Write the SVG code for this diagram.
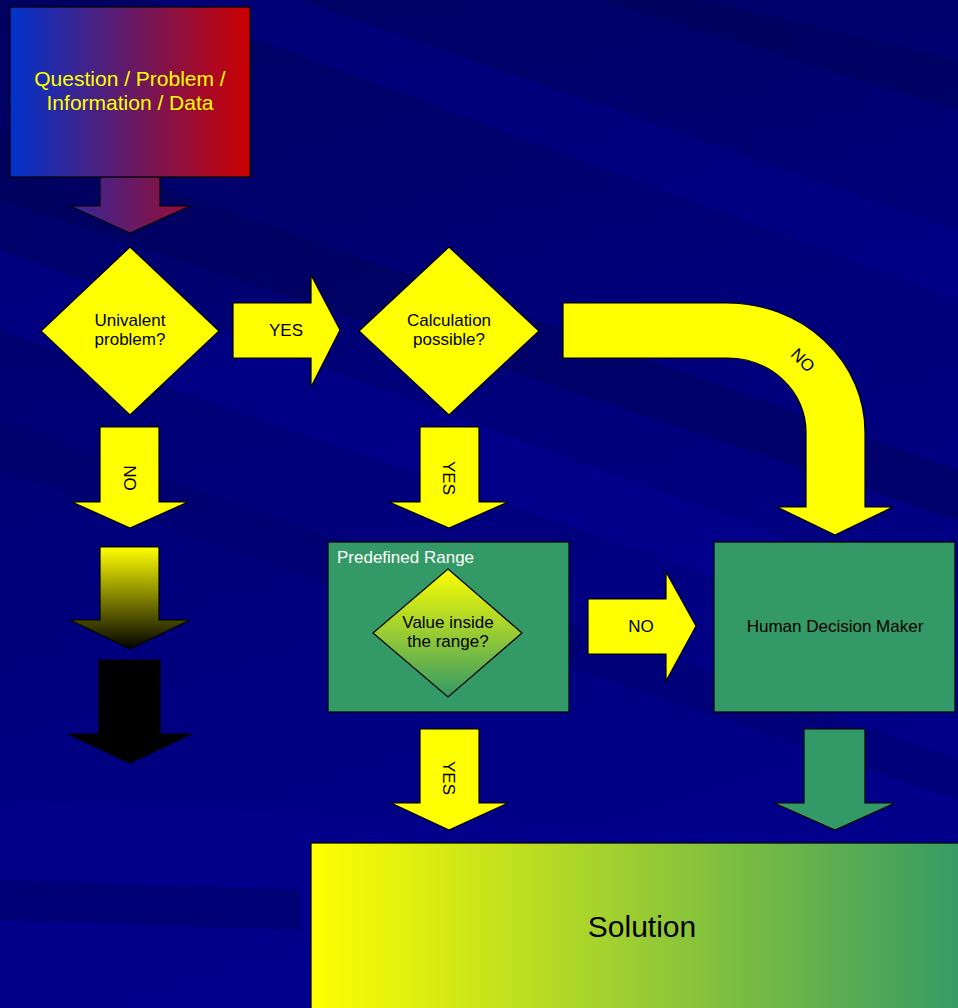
<svg xmlns="http://www.w3.org/2000/svg" width="958" height="1008" viewBox="0 0 958 1008">
<defs>
<linearGradient id="bg" x1="0" y1="0" x2="0.3" y2="1">
<stop offset="0" stop-color="#000060"/>
<stop offset="0.5" stop-color="#00007a"/>
<stop offset="1" stop-color="#00008a"/>
</linearGradient>
<linearGradient id="gTop" x1="0" y1="0" x2="1" y2="0">
<stop offset="0" stop-color="#0033cc"/>
<stop offset="1" stop-color="#cc0000"/>
</linearGradient>
<linearGradient id="gTopArrow" gradientUnits="userSpaceOnUse" x1="10" y1="0" x2="250" y2="0">
<stop offset="0" stop-color="#0033cc"/>
<stop offset="1" stop-color="#cc0000"/>
</linearGradient>
<linearGradient id="gFade" x1="0" y1="0" x2="0" y2="1">
<stop offset="0" stop-color="#ffff00"/>
<stop offset="1" stop-color="#000000"/>
</linearGradient>
<linearGradient id="gDia" x1="0" y1="0" x2="0" y2="1">
<stop offset="0" stop-color="#ffff00"/>
<stop offset="1" stop-color="#339966"/>
</linearGradient>
<linearGradient id="gSol" x1="0" y1="0" x2="1" y2="0">
<stop offset="0" stop-color="#ffff00"/>
<stop offset="1" stop-color="#339966"/>
</linearGradient>
<style>
.ln{stroke:#000;stroke-width:1.2}
.yel{fill:#ffff00}
.grn{fill:#339966}
.t{font-family:"Liberation Sans",Arial,sans-serif;fill:#000;text-anchor:middle}
</style>
</defs>
<g id="background">
<rect x="0" y="0" width="958" height="1008" fill="url(#bg)"/>
<polygon points="0,130 958,470 958,520 0,200" fill="#000055" opacity="0.45"/>
<polygon points="0,250 958,600 958,660 0,330" fill="#0000a0" opacity="0.35"/>
<polygon points="0,420 958,760 958,800 0,470" fill="#000060" opacity="0.35"/>
<polygon points="300,0 958,230 958,300 150,0" fill="#0000a0" opacity="0.3"/>
<polygon points="600,0 958,110 958,60 700,0" fill="#000050" opacity="0.4"/>
<polygon points="0,800 958,840 958,1008 0,1008" fill="#000090" opacity="0.4"/>
<polygon points="0,880 300,890 300,930 0,920" fill="#000060" opacity="0.5"/>
</g>
<g id="connectors">
<polygon id="c-start" class="ln" fill="url(#gTopArrow)" points="100,177 160,177 160,206 190,206 130,233 70,206 100,206"/>
<g id="c-yes1">
<polygon class="ln yel" points="233,303 311,303 311,275 340,330 311,387 311,358 233,358"/>
<text class="t" x="286" y="336" font-size="17">YES</text>
</g>
<g id="c-no-curve">
<path class="ln yel" d="M563,303 L727,303 A138,129 0 0 1 865,432 L865,507 L893,507 L835,535 L777,507 L806,507 L806,432 A79,74 0 0 0 727,358 L563,358 Z"/>
<text class="t" x="803" y="366" font-size="17" transform="rotate(45 803 360)">NO</text>
</g>
<g id="c-no-left">
<polygon class="ln yel" points="100,427 159,427 159,502 188,502 130,528 72,502 100,502"/>
<text class="t" x="130" y="484" font-size="17" transform="rotate(90 130 478)">NO</text>
</g>
<polygon id="c-fade" class="ln" fill="url(#gFade)" points="100,547 159,547 159,620 190,620 130,649 70,620 100,620"/>
<polygon id="c-black" class="ln" fill="#000" points="99,660 160,660 160,734 191,734 130,763 68,734 99,734"/>
<g id="c-yes2">
<polygon class="ln yel" points="420,427 479,427 479,502 508,502 449,528 389,502 420,502"/>
<text class="t" x="449" y="484" font-size="17" transform="rotate(90 449 478)">YES</text>
</g>
<g id="c-no-range">
<polygon class="ln yel" points="588,599 666,599 666,572 696,626 666,681 666,654 588,654"/>
<text class="t" x="641" y="632" font-size="17">NO</text>
</g>
<g id="c-yes3">
<polygon class="ln yel" points="420,729 479,729 479,803 508,803 449,830 391,803 420,803"/>
<text class="t" x="449" y="784" font-size="17" transform="rotate(90 449 778)">YES</text>
</g>
<polygon id="c-human" class="ln grn" points="804,729 865,729 865,803 895,803 835,830 774,803 804,803"/>
</g>
<g id="n-start">
<rect class="ln" x="10" y="7" width="240" height="170" fill="url(#gTop)"/>
<text class="t" x="130" y="86" font-size="21" style="fill:#ffff00">Question / Problem /</text>
<text class="t" x="130" y="110" font-size="21" style="fill:#ffff00">Information / Data</text>
</g>
<g id="n-univalent">
<polygon class="ln yel" points="130,247 219,331 130,415 41,331"/>
<text class="t" x="130" y="326" font-size="17">Univalent</text>
<text class="t" x="130" y="345" font-size="17">problem?</text>
</g>
<g id="n-calc">
<polygon class="ln yel" points="449,247 539,331 449,415 359,331"/>
<text class="t" x="449" y="326" font-size="17">Calculation</text>
<text class="t" x="449" y="345" font-size="17">possible?</text>
</g>
<g id="n-range">
<rect class="ln grn" x="328" y="542" width="241" height="170"/>
<text x="337" y="563" font-size="17" font-family="Liberation Sans, Arial, sans-serif" fill="#ffffff">Predefined Range</text>
<polygon class="ln" fill="url(#gDia)" points="448,569 522,633 448,697 373,633"/>
<text class="t" x="448" y="628" font-size="17">Value inside</text>
<text class="t" x="448" y="647" font-size="17">the range?</text>
</g>
<g id="n-human">
<rect class="ln grn" x="714" y="542" width="241" height="170"/>
<text class="t" x="835" y="632" font-size="17">Human Decision Maker</text>
</g>
<g id="n-solution">
<rect class="ln" x="311" y="843" width="660" height="180" fill="url(#gSol)"/>
<text class="t" x="642" y="937" font-size="30">Solution</text>
</g>
</svg>
